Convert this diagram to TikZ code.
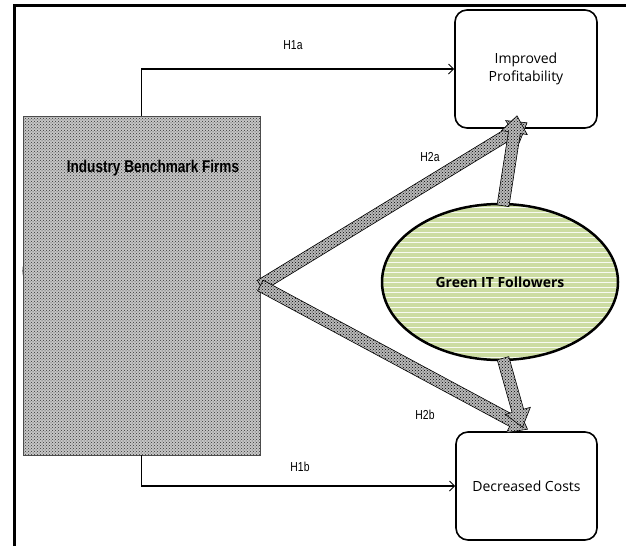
\documentclass[tikz,border=0pt]{standalone}
\usepackage{fontspec}
\setmainfont{Open Sans}
\newfontfamily\narrowfont[FakeStretch=0.8]{Liberation Sans}
\usetikzlibrary{calc,arrows.meta,patterns,shapes.geometric}
\definecolor{leaf}{HTML}{CCDCA2}
\tikzset{
  frameline/.style={line width=3pt},
  outcome/.style={draw, line width=1.6pt, rounded corners=12pt, align=center,
    inner sep=0pt, font=\fontsize{14}{18}\selectfont},
  firmbox/.style={draw=black!70, line width=0.8pt, preaction={fill=gray!45},
    pattern=crosshatch dots, pattern color=black!80},
  hyplink/.style={line width=1.4pt, -{Straight Barb[length=5pt,width=10pt,line width=1pt]}},
  hyplabel/.style={font=\narrowfont\fontsize{13}{15}\selectfont},
  fatstyle/.style={draw=black, line width=0.6pt, preaction={fill=gray!55},
    pattern=crosshatch dots, pattern color=black},
}
\newcommand\fatarrow[3]{%
  \coordinate (#1-h) at ($(#3)!17pt!(#2)$);
  \path[fatstyle] ($(#2)!6pt!90:(#3)$) -- ($(#1-h)!6pt!90:(#3)$) -- ($(#1-h)!13pt!90:(#3)$)
    -- (#3) -- ($(#1-h)!13pt!-90:(#3)$) -- ($(#1-h)!6pt!-90:(#3)$) -- ($(#2)!6pt!-90:(#3)$) -- cycle;}
\begin{document}
\begin{tikzpicture}[x=1pt,y=-1pt]
\useasboundingbox (0,0) rectangle (626,546);
% frame
\draw[frameline] (14,546) -- (14,5) -- (626,5);
% benchmark firms
\node[firmbox, minimum width=237pt, minimum height=339pt, inner sep=0pt] (bf) at (141.5,285.5) {};
\node[font=\narrowfont\bfseries\fontsize{17}{19}\selectfont] (bflabel) at (153,168) {Industry Benchmark Firms};
\draw[black!70, line width=0.6pt] (24,278) arc[start angle=160, end angle=200, radius=21];
% outcomes
\node[outcome, minimum width=142pt, minimum height=118pt] (ip) at (526,69) {Improved\\Profitability};
\node[outcome, minimum width=141pt, minimum height=108pt] (dc) at (526.5,486) {Decreased Costs};
% green IT followers
\node[ellipse, draw, line width=2.5pt, fill=leaf, minimum width=236pt, minimum height=156pt, inner sep=0pt,
  path picture={\foreach \k in {-16,...,16}
     \draw[white!85!leaf, line width=0.9pt] ($(path picture bounding box.center)+(-130,\k*5)$) -- ++(260,0);}]
  (gf) at (500,282) {};
\node[font=\bfseries\fontsize{14}{16}\selectfont] (gflabel) at (gf.center) {Green IT Followers};
% direct hypotheses
\draw[hyplink] (bf.north) |- (ip.west);
\draw[hyplink] (bf.south) |- (dc.west);
\node[hyplabel] (h1a) at (293,45) {H1a};
\node[hyplabel] (h1b) at (300,467) {H1b};
% fat arrows
\coordinate (t1) at ($(ip.south)+(1,-6)$);
\coordinate (t2) at ($(ip.south)+(-9,-13)$);
\coordinate (t3) at ($(dc.north)+(1,-2)$);
\coordinate (t4) at ($(dc.north)+(-4,-4)$);
\coordinate (s2) at ($(gf.north)+(3,3)$);
\coordinate (s4) at ($(gf.south)+(3,-3)$);
\fatarrow{fa}{bf.east}{t1}
\fatarrow{fb}{s2}{t2}
\fatarrow{fc}{bf.east}{t3}
\fatarrow{fd}{s4}{t4}
\node[hyplabel] (h2a) at (430,157) {H2a};
\node[hyplabel] (h2b) at (425,415) {H2b};
\end{tikzpicture}
\end{document}
